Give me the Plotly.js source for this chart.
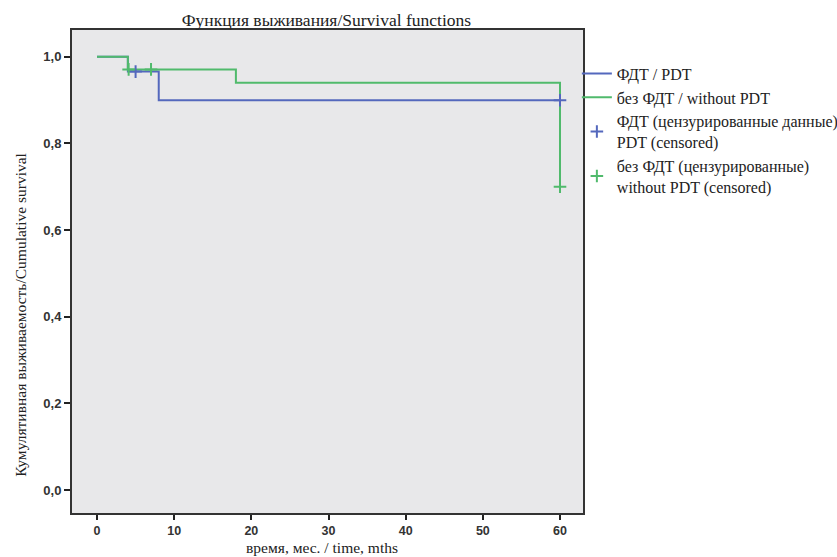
<!DOCTYPE html>
<html><head><meta charset="utf-8">
<script src="https://cdn.plot.ly/plotly-3.0.1.min.js"></script>
<style>body{margin:0;padding:0;background:#fff}#chart{width:837px;height:557px}</style>
</head><body><div id="chart"></div>
<script>
const pdtTime = [0, 4, 8, 60];
const pdtSurv = [1.0, 0.966, 0.90, 0.90];
const noPdtTime = [0, 4, 18, 60];
const noPdtSurv = [1.0, 0.971, 0.94, 0.70];
const pdtCensTime = [5, 60];
const pdtCensSurv = [0.966, 0.90];
const noPdtCensTime = [4.1, 7, 60];
const noPdtCensSurv = [0.971, 0.971, 0.70];
const names = ['ФДТ / PDT', 'без ФДТ / without PDT', 'ФДТ (цензурированные данные)<br>PDT (censored)', 'без ФДТ (цензурированные)<br>without PDT (censored)'];
const titleText = 'Функция выживания/Survival functions';
const xTitle = 'время, мес. / time, mths';
const yTitle = 'Кумулятивная выживаемость/Cumulative survival';
const blue = '#5468bd', green = '#50ba6c';
const serif = '"Liberation Serif", "Times New Roman", Times, serif';
const sans = '"Liberation Sans", Arial, sans-serif';
const traces = [
  {x: pdtTime, y: pdtSurv, mode:'lines', line:{shape:'hv', color:blue, width:2}, name:names[0], legendrank:1},
  {x: noPdtTime, y: noPdtSurv, mode:'lines', line:{shape:'hv', color:green, width:2}, name:names[1], legendrank:2},
  {x: pdtCensTime, y: pdtCensSurv, mode:'markers', marker:{symbol:'cross-thin', size:9, line:{color:blue, width:2}, color:blue}, name:names[2], legendrank:3},
  {x: noPdtCensTime, y: noPdtCensSurv, mode:'markers', marker:{symbol:'cross-thin', size:9, line:{color:green, width:2}, color:green}, name:names[3], legendrank:4}
];
const layout = {
  width:837, height:557,
  margin:{l:72, r:254, t:30, b:44, autoexpand:false},
  paper_bgcolor:'#ffffff', plot_bgcolor:'#e8e8ea',
  separators:',.',
  title:{text:titleText, font:{family:serif, size:17.5, color:'#222'}, x:0.39, xanchor:'center', y:0.965, yanchor:'middle'},
  xaxis:{range:[-3.24, 62.98], tickvals:[0,10,20,30,40,50,60], ticks:'outside', ticklen:5, tickwidth:2, tickcolor:'#222',
    showgrid:false, zeroline:false, showline:true, linecolor:'#333', linewidth:2, mirror:true,
    tickfont:{family:sans, size:12.5, color:'#333', weight:700}},
  yaxis:{range:[-0.053, 1.062], tickvals:[0,0.2,0.4,0.6,0.8,1.0], tickformat:'.1f', ticks:'outside', ticklen:6, tickwidth:2, tickcolor:'#222',
    showgrid:false, zeroline:false, showline:true, linecolor:'#333', linewidth:2, mirror:true,
    tickfont:{family:sans, size:13, color:'#333', weight:700}},
  annotations:[
    {text:yTitle, textangle:-90, xref:'paper', yref:'paper', x:-0.10, y:0.41, xanchor:'center', yanchor:'middle', showarrow:false, font:{family:serif, size:15.5, color:'#222'}},
    {text:xTitle, xref:'paper', yref:'paper', x:0.49, y:-0.0915, xanchor:'center', yanchor:'bottom', showarrow:false, borderpad:0, font:{family:serif, size:15.5, color:'#222'}}
  ],
  legend:{x:0.988, xanchor:'left', y:0.945, yanchor:'top', bgcolor:'rgba(0,0,0,0)', font:{family:serif, size:16, color:'#222'}, tracegroupgap:0, itemwidth:30},
  showlegend:true
};
Plotly.newPlot('chart', traces, layout, {displayModeBar:false});
</script></body></html>
